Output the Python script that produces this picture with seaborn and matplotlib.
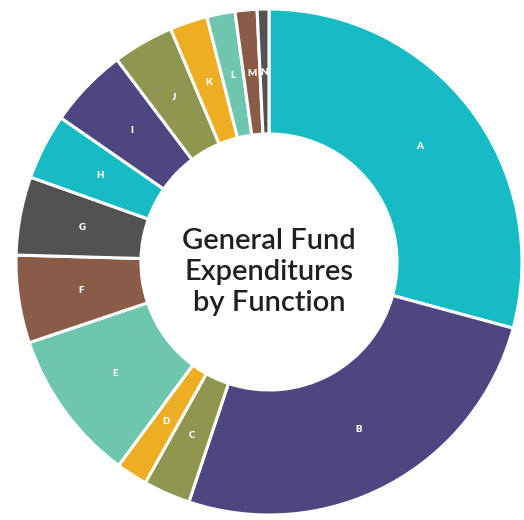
from matplotlib import pyplot as plt
import seaborn as sns

functions = ['A', 'B', 'C', 'D', 'E', 'F', 'G', 'H', 'I', 'J', 'K', 'L', 'M', 'N']
shares = [29.2, 25.9, 3.0, 2.0, 9.7, 5.6, 5.0, 4.2, 5.1, 3.9, 2.4, 1.8, 1.4, 0.75]

base_colors = ['#17bbc4', '#4e4680', '#8f9650', '#edae23', '#6dc6ad', '#8a5c48', '#525252']
colors = sns.color_palette(base_colors * 2)

sns.set_theme(style='white')
plt.rcParams['font.family'] = ['Lato', 'DejaVu Sans']

fig = plt.figure(figsize=(5.24, 5.20), dpi=100)
ax = fig.add_axes([0, 0, 1, 1])

radius_px = 253
cx, cy = 269, 262

wedges, texts = ax.pie(shares, labels=functions, colors=colors, startangle=90, counterclock=False,
                       radius=1, labeldistance=0.75,
                       wedgeprops=dict(width=0.494, edgecolor='white', linewidth=2.2),
                       textprops=dict(color='white', fontsize=7, fontweight='heavy', ha='center', va='center'))

ax.text(0, -0.04, 'General Fund\nExpenditures\nby Function', ha='center', va='center',
        fontsize=21, fontweight='semibold', color='#231f20', linespacing=1.22)

ax.set_xlim(-cx / radius_px, (524 - cx) / radius_px)
ax.set_ylim(-(520 - cy) / radius_px, cy / radius_px)
ax.set_aspect('auto')
ax.axis('off')

fig.savefig('out.png', dpi=100)
plt.close()
